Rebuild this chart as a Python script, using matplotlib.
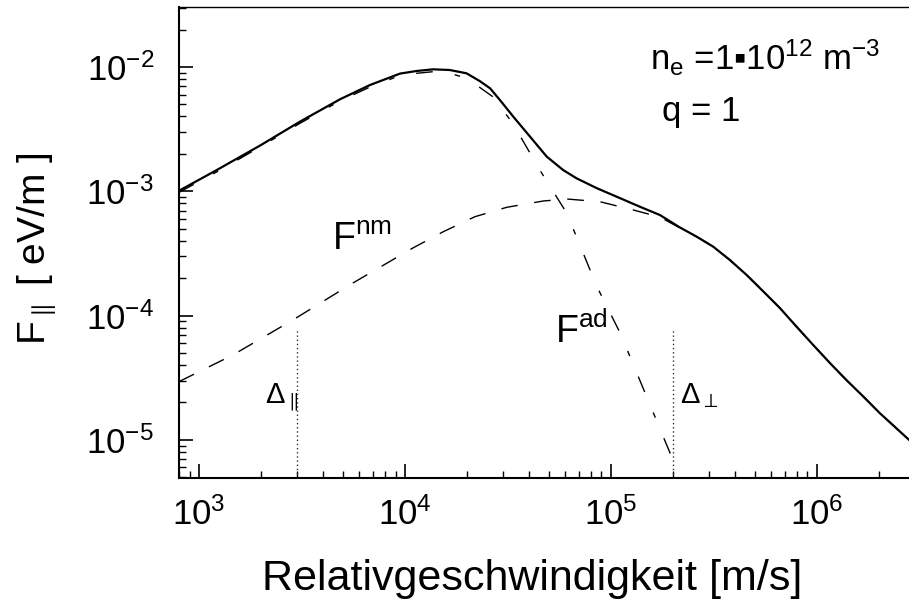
import matplotlib
matplotlib.use("Agg")
import matplotlib.pyplot as plt

plt.rcParams["font.family"] = ["Liberation Sans", "DejaVu Sans"]
plt.rcParams["mathtext.fontset"] = "custom"
plt.rcParams["mathtext.rm"] = "Liberation Sans"
plt.rcParams["mathtext.it"] = "Liberation Sans:italic"
plt.rcParams["mathtext.bf"] = "Liberation Sans:bold"
plt.rcParams["mathtext.fallback"] = "stixsans"

# Gesamtkraft (durchgezogen)
v_ges = [800, 1218, 1977, 3090, 4830, 6760, 9460, 1.14e4, 1.37e4, 1.65e4, 1.99e4, 2.31e4,
         2.59e4, 2.89e4, 3.36e4, 4.05e4, 4.88e4, 5.87e4, 6.82e4, 8.53e4, 1.11e5, 1.38e5,
         1.73e5, 2.16e5, 2.61e5, 3.14e5, 3.78e5, 4.56e5, 5.50e5, 6.61e5, 7.96e5, 9.59e5,
         1.16e6, 1.39e6, 1.68e6, 2.02e6, 2.80e6]
F_ges = [1.01e-3, 1.48e-3, 2.33e-3, 3.63e-3, 5.49e-3, 7.16e-3, 8.85e-3, 9.29e-3, 9.58e-3,
         9.46e-3, 8.90e-3, 7.70e-3, 6.74e-3, 5.43e-3, 3.98e-3, 2.75e-3, 1.90e-3, 1.48e-3,
         1.27e-3, 1.06e-3, 8.79e-4, 7.52e-4, 6.44e-4, 5.12e-4, 4.31e-4, 3.58e-4, 2.80e-4,
         2.12e-4, 1.56e-4, 1.15e-4, 8.15e-5, 5.80e-5, 4.13e-5, 3.03e-5, 2.23e-5, 1.64e-5,
         1.0e-5]

# nicht-magnetisierter Anteil (gestrichelt)
v_nm = [800, 1462, 2858, 5598, 1.094e4, 1.536e4, 2.19e4, 3.12e4, 4.69e4, 6.09e4,
        8.85e4, 1.28e5, 1.73e5, 2.16e5, 2.61e5, 3.14e5, 3.78e5, 4.56e5, 5.50e5, 6.61e5,
        7.96e5, 9.59e5, 1.16e6, 1.39e6, 1.68e6, 2.02e6, 2.80e6]
F_nm = [2.94e-5, 4.82e-5, 9.22e-5, 1.83e-4, 3.50e-4, 4.73e-4, 6.25e-4, 7.43e-4, 8.35e-4,
        8.67e-4, 8.24e-4, 7.08e-4, 6.20e-4, 5.08e-4, 4.31e-4, 3.58e-4, 2.80e-4, 2.12e-4,
        1.56e-4, 1.15e-4, 8.15e-5, 5.80e-5, 4.13e-5, 3.03e-5, 2.23e-5, 1.64e-5, 1.0e-5]

# adiabatischer Anteil (strich-punkt)
v_ad = [800, 1218, 1977, 3090, 4830, 6760, 9460, 1.14e4, 1.37e4, 1.65e4, 2.0e4, 2.67e4,
        3.34e4, 4.52e4, 6.11e4, 8.55e4, 1.11e5, 1.49e5, 2.0e5]
F_ad = [9.8e-4, 1.43e-3, 2.27e-3, 3.52e-3, 5.33e-3, 6.90e-3, 8.54e-3, 8.90e-3, 9.17e-3,
        8.90e-3, 8.11e-3, 5.77e-3, 3.52e-3, 1.48e-3, 6.65e-4, 1.71e-4, 7.21e-5, 2.23e-5,
        6.89e-6]

delta_v = [3e3, 2e5]
delta_top = 7.8e-5

fig = plt.figure(figsize=(9.09, 6.03), dpi=100)
ax = fig.add_axes([179 / 909, 1 - 478 / 603, 730 / 909, 471 / 603])
ax.set_xscale("log")
ax.set_yscale("log")
ax.set_xlim(800, 2.8e6)
ax.set_ylim(4.93e-6, 3.04e-2)

ax.plot(v_ges, F_ges, color="black", lw=1.6, solid_joinstyle="round")
ax.plot(v_nm, F_nm, color="black", lw=1.0, dashes=(12, 12))
ax.plot(v_ad, F_ad, color="black", lw=1.0, dashes=(12, 16, 4, 16))
ax.vlines(delta_v, 4.93e-6, delta_top, colors="#333333", lw=1.0, linestyles=(0, (1, 2)))

ax.spines["right"].set_visible(False)
ax.spines["top"].set_linewidth(1.0)
ax.spines["left"].set_linewidth(1.5)
ax.spines["bottom"].set_linewidth(1.5)
ax.tick_params(which="both", direction="in", top=False, right=False)
ax.tick_params(which="major", length=10, width=1.2, labelsize=25)
ax.tick_params(which="minor", length=5, width=1.0)
ax.tick_params(axis="x", which="major", pad=14)
ax.tick_params(axis="y", which="major", pad=18)

ax.set_xlabel("Relativgeschwindigkeit [m/s]", fontsize=31)
ax.xaxis.set_label_coords(0.484, -0.172)
ax.set_ylabel(r"$\mathregular{F_{\parallel}}$ [ eV/m ]", fontsize=28)
ax.yaxis.set_label_coords(-0.166, 0.486)

ax.text(4430, 3.37e-4, r"F$^{\mathregular{nm}}$", fontsize=27, va="baseline")
ax.text(5.35e4, 6.03e-5, r"F$^{\mathregular{ad}}$", fontsize=27, va="baseline")
ax.text(2090, 1.98e-5, r"$\Delta_{\parallel}$", fontsize=21, va="baseline")
ax.text(2.16e5, 1.98e-5, r"$\Delta_{\perp}$", fontsize=21, va="baseline")

ax.text(0.645, 0.866, r"n$_{\mathregular{e}}$ =1▪10$^{12}$ m$^{-3}$", fontsize=25,
        transform=ax.transAxes, va="baseline")
ax.text(0.662, 0.758, "q = 1", fontsize=25, transform=ax.transAxes, va="baseline")

fig.savefig("out.png", dpi=100)
